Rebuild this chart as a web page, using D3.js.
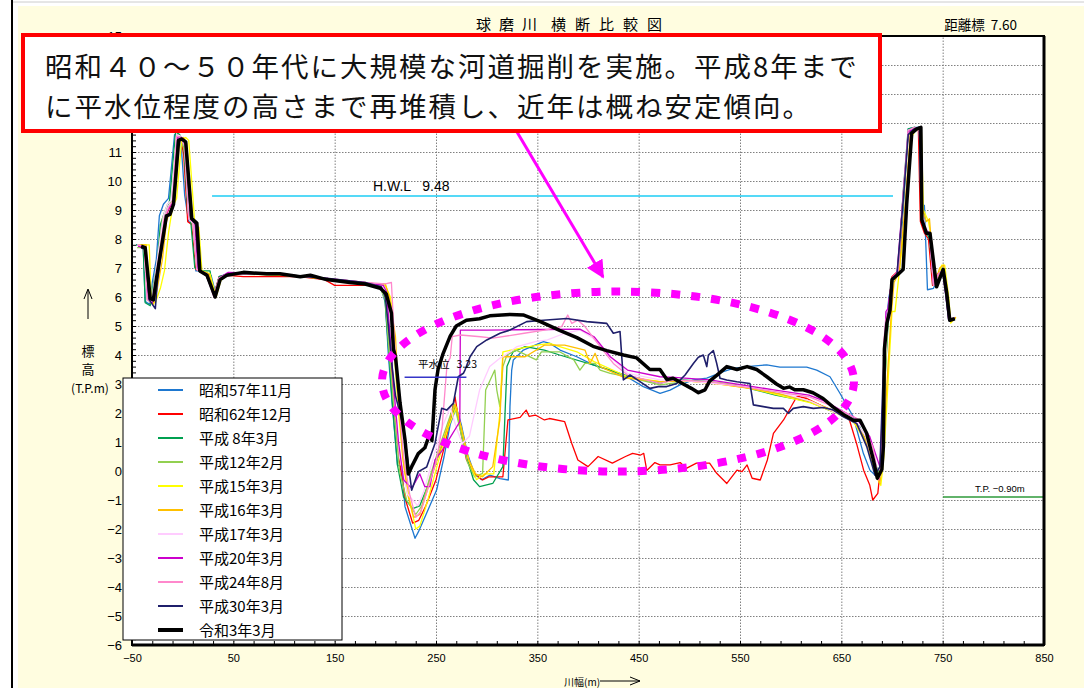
<!DOCTYPE html>
<html>
<head>
<meta charset="utf-8">
<script src="https://cdn.jsdelivr.net/npm/d3@7"></script>
<style>
  body { margin: 0; background: #fff; }
  text { font-family: "Noto Sans CJK JP", "Noto Sans", sans-serif; }
  .num { font-family: "Liberation Sans", Arial, sans-serif; }
</style>
</head>
<body>
<script>
// cross section survey lines, [distance m, elevation T.P.m]
const names = ['昭和57年11月', '昭和62年12月', '平成 8年3月', '平成12年2月', '平成15年3月', '平成16年3月',
  '平成17年3月', '平成20年3月', '平成24年8月', '平成30年3月', '令和3年3月'];
const colors = ['#1e78d0', '#ff0000', '#00a050', '#92d050', '#ffff00', '#ffc000',
  '#ffccff', '#cc00cc', '#ff88cc', '#1f1f6b', '#000000'];

const s57_11 = [[-46,7.8],[-39,7.8],[-37,5.85],[-33,5.75],[-30,6.5],[-26,7.3],[-23,8.8],[-19,9.2],[-14,9.4],[-8,11.6],[-5,11.6],[-2,11.5],[2,9.5],[6,8.6],[10,8.5],[13,6.9],[20,6.9],[28,6.75],[32,6.2],[36,6.7],[45,6.8],[60,6.8],[100,6.75],[140,6.65],[175,6.5],[195,6.4],[200,5.8],[203,4.0],[207,2.2],[212,0.2],[216,0.15],[219.4,-1.23],[229.3,-2.32],[232.6,-2.1],[240.8,-1.45],[250.7,-0.65],[258,0.5],[264,1.6],[270,2.2],[275,1.6],[281,0.6],[288,-0.1],[295,-0.3],[303.3,-0.14],[313.2,-0.26],[321.4,-0.31],[323,2.22],[324.7,3.48],[326.3,3.83],[336.2,4.17],[355.9,4.46],[362.5,4.4],[372.4,4.17],[388.9,3.94],[405.2,3.66],[421.7,3.48],[438.2,3.25],[454.6,2.91],[471.1,2.68],[481,2.79],[490.8,2.97],[504,3.14],[517.2,3.2],[533.6,3.43],[543.4,3.54],[556.6,3.6],[576.4,3.66],[589.4,3.58],[615.8,3.58],[625.7,3.48],[638.8,3.25],[648.6,2.68],[661.8,1.87],[671.7,0.61],[678.2,0.03],[684.9,-0.2],[689.9,0.14],[692,3.0],[694,5.0],[697,6.0],[701,6.7],[707,6.9],[712,9.5],[716,11.8],[722,11.85],[727,11.85],[730,9.2],[732,9.15],[735,6.25],[741,6.3],[748,6.9],[752,6.8],[756,5.3],[762,5.25]];

const s62_12 = [[-44,7.8],[-38,7.7],[-34,6.0],[-30,5.9],[-27,6.5],[-22,7.6],[-18,8.7],[-14,9.0],[-10,9.3],[-6,11.5],[-2,11.5],[1,10.9],[5,8.6],[9,8.5],[13,6.95],[25,6.8],[31,6.1],[36,6.7],[44,6.75],[60,6.7],[115,6.7],[140,6.6],[150,6.4],[190,6.4],[198,6.3],[202,5.5],[205,4.2],[209,2.0],[214,0.3],[220,-1.0],[227,-1.8],[233,-1.7],[240,-1.2],[250,-0.3],[258,0.8],[264,1.8],[268.8,2.56],[273,1.6],[280,0.4],[288,-0.1],[296,-0.31],[302,-0.2],[316,-0.2],[321,1.76],[333,1.85],[339,2.1],[342,1.88],[348,1.93],[357,1.76],[362,1.81],[377,1.7],[384,0.95],[390,0.38],[400,0.15],[410,0.5],[424,0.27],[437,0.5],[444,0.61],[452,0.55],[455,0.61],[458,0.02],[466,0.29],[471,0.21],[481,0.21],[491,0.29],[497,0.09],[507,0.27],[520,0.27],[527,-0.08],[537,-0.43],[547,0.03],[552,-0.02],[557,0.21],[562,-0.25],[570,-0.31],[577,0.38],[583,1.3],[593,1.76],[606,2.56],[609,2.56],[616,2.5],[632,2.22],[649,1.99],[658,1.76],[665,0.95],[672,0.03],[678,-0.48],[681,-1.0],[686,-0.77],[688,-0.08],[691,2.5],[694,4.5],[697,5.8],[700,6.7],[706,6.9],[711,9.5],[716,11.6],[722,11.8],[726,11.8],[728,8.6],[732,8.2],[736,8.0],[740,6.4],[745,6.8],[750,6.9],[754,6.1],[757,5.3],[762,5.25]];

const h08_03 = [[-46,7.8],[-39,7.8],[-37,5.8],[-32,5.7],[-29,6.4],[-25,7.2],[-22,8.5],[-17,9.0],[-13,9.3],[-7,11.7],[-3,11.6],[1,11.3],[5,9.0],[8,8.6],[12,7.0],[18,6.9],[27,6.9],[31,6.0],[36,6.7],[45,6.8],[70,6.8],[120,6.7],[160,6.55],[192,6.45],[199,6.2],[203,4.3],[207,2.3],[212,0.2],[218,-0.9],[227,-1.3],[234,-1.2],[242,-0.5],[252,0.5],[262,1.5],[269,2.25],[274,1.5],[280,0.5],[287,-0.3],[293,-0.54],[306,-0.43],[316,0.15],[320,3.6],[326,4.11],[338,4.29],[357,4.17],[372,4.0],[405,3.66],[437,3.31],[471,3.02],[485,3.16],[520,3.08],[552,2.91],[585,2.62],[618,2.39],[638,2.1],[655,1.87],[668,1.53],[681,0.5],[687,-0.08],[690,0.3],[692,2.5],[696,5.0],[700,6.6],[706,6.85],[711,9.6],[716,11.8],[722,11.85],[727,11.8],[729,9.0],[733,8.3],[737,8.0],[741,6.4],[746,6.8],[750,7.0],[754,6.2],[757,5.3],[762,5.25]];

const h12_02 = [[-45,7.7],[-38,7.7],[-35,5.9],[-31,5.8],[-28,6.5],[-24,7.5],[-20,8.7],[-15,9.2],[-11,9.3],[-6,11.6],[-2,11.5],[2,11.0],[6,8.8],[10,8.5],[14,6.95],[24,6.85],[31,6.05],[36,6.65],[45,6.8],[80,6.8],[130,6.7],[170,6.5],[194,6.4],[200,5.9],[204,4.0],[209,2.0],[214,0.0],[221,-1.0],[230,-1.5],[236,-1.2],[244,-0.2],[254,0.9],[263,1.8],[268,2.3],[274,1.4],[281,0.3],[288,-0.2],[296,-0.08],[299,2.79],[308,3.48],[310,2.79],[313,2.22],[316,3.6],[320,4.0],[329,4.17],[349,3.83],[354,4.11],[372,4.11],[386,3.83],[392,3.48],[397,3.71],[407,3.71],[412,3.48],[422,3.37],[439,3.25],[471,2.97],[500,3.1],[530,3.05],[560,2.9],[590,2.65],[620,2.4],[640,2.1],[657,1.85],[670,1.4],[681,0.3],[687,-0.1],[690,0.4],[693,3.0],[696,5.2],[699,6.4],[705,6.8],[711,9.2],[716,11.7],[722,11.85],[727,11.8],[729,9.0],[733,8.3],[737,8.2],[741,6.4],[746,6.8],[750,6.95],[754,6.1],[757,5.3],[763,5.25]];

const h15_03 = [[-42,7.8],[-33,7.8],[-31,5.85],[-27,5.8],[-22,6.3],[-18,6.9],[-14,8.2],[-10,9.1],[-6,9.4],[-1,11.4],[3,11.5],[6,11.4],[12,8.5],[16,8.4],[19,6.9],[27,6.8],[33,6.0],[38,6.6],[46,6.8],[90,6.8],[140,6.65],[180,6.5],[200,6.4],[205,6.0],[207,5.5],[209,4.0],[213,2.0],[218,0.3],[224,-1.0],[230,-2.0],[234,-1.9],[242,-1.0],[252,0.3],[262,1.5],[270,2.2],[276,1.3],[283,0.3],[290,-0.3],[298,-0.1],[307,-0.1],[313,2.0],[316,4.11],[333,4.23],[350,4.34],[362,4.4],[372,4.29],[389,4.11],[406,3.77],[439,3.25],[471,3.08],[500,3.1],[530,3.0],[560,2.85],[590,2.6],[620,2.35],[645,2.0],[662,1.7],[674,1.0],[685,-0.2],[689,-0.5],[692,0.5],[696,3.0],[700,5.5],[703,5.5],[707,6.8],[714,9.0],[719,11.5],[724,11.8],[729,11.7],[731,9.0],[736,8.6],[738,8.2],[744,6.4],[749,7.1],[752,7.1],[756,6.0],[758,5.1],[763,5.3]];

const h16_03 = [[-44,7.8],[-36,7.8],[-33,5.85],[-29,5.75],[-25,6.3],[-20,7.3],[-16,8.6],[-12,9.0],[-8,9.3],[-3,11.4],[1,11.5],[4,11.3],[10,8.6],[14,8.5],[17,6.9],[26,6.8],[32,6.05],[37,6.65],[46,6.8],[100,6.75],[150,6.6],[185,6.45],[200,6.45],[204,6.0],[210,4.63],[213,2.5],[217,0.5],[222,-0.8],[228,-1.6],[234,-1.5],[242,-0.6],[252,0.5],[262,1.6],[269,2.3],[275,1.5],[282,0.4],[289,-0.1],[296,-0.2],[306,0.15],[313,1.76],[316,3.94],[338,3.94],[357,4.34],[377,4.34],[397,4.17],[402,3.71],[407,4.06],[412,3.6],[437,3.2],[471,3.08],[500,3.1],[530,3.0],[560,2.85],[590,2.65],[620,2.4],[645,2.05],[662,1.75],[674,1.1],[684,-0.1],[688,-0.45],[691,0.5],[695,3.0],[699,5.3],[702,6.5],[707,6.85],[713,9.2],[718,11.6],[723,11.8],[728,11.75],[730,9.0],[734,8.6],[737,8.7],[742,6.4],[747,7.0],[751,7.1],[755,6.0],[758,5.15],[763,5.3]];

const h17_03 = [[-45,7.8],[-38,7.75],[-35,5.9],[-31,5.8],[-28,6.5],[-23,7.8],[-19,8.8],[-15,9.2],[-11,9.35],[-6,11.6],[-2,11.55],[2,11.2],[6,8.7],[10,8.55],[14,6.95],[24,6.8],[31,6.05],[36,6.65],[45,6.8],[90,6.8],[140,6.65],[180,6.5],[197,6.4],[201,6.0],[205,4.5],[209,2.5],[214,0.5],[222,-0.8],[232,-1.2],[238,-0.7],[246,0.3],[256,1.5],[264,2.2],[270,1.5],[276,0.95],[283,1.2],[293,2.79],[303,3.6],[313,3.89],[316,3.94],[330,4.29],[348,4.46],[360,4.52],[377,4.75],[392,4.86],[405,4.58],[422,3.94],[439,3.37],[471,3.14],[500,3.1],[530,3.0],[560,2.9],[590,2.7],[620,2.4],[645,2.0],[662,1.8],[674,1.2],[684,0.0],[688,-0.2],[690,1.0],[693,3.5],[696,5.5],[700,6.6],[706,6.85],[711,9.5],[716,11.75],[722,11.8],[727,11.8],[729,9.0],[733,8.4],[737,8.2],[741,6.4],[746,6.8],[750,6.95],[754,6.1],[757,5.3],[762,5.25]];

const h20_03 = [[-44,7.75],[-37,7.7],[-34,5.95],[-30,5.8],[-26,6.6],[-21,7.8],[-17,8.8],[-13,9.1],[-9,9.3],[-5,11.5],[-1,11.5],[3,11.3],[8,8.7],[12,8.55],[15,6.95],[23,6.8],[31,6.0],[36,6.65],[45,6.85],[90,6.8],[140,6.65],[180,6.5],[198,6.4],[201,6.2],[204,5.0],[208,3.0],[213,1.0],[218,-0.3],[226,-0.6],[234,-0.1],[239,-0.54],[244,-0.54],[249,0.38],[256,0.7],[263,1.1],[270,1.5],[273.5,1.7],[274,4.86],[300,4.86],[330,4.87],[360,4.88],[392,4.89],[406,4.63],[422,3.94],[439,3.48],[471,3.25],[485,3.23],[520,3.14],[552,2.97],[585,2.79],[618,2.62],[635,2.39],[652,2.05],[665,1.81],[678,1.19],[688,0.15],[690,0.5],[692,3.5],[694,5.5],[696,5.6],[700,6.65],[705,6.85],[711,9.5],[716,11.7],[722,11.8],[727,11.8],[729,8.8],[733,8.3],[737,8.2],[741,6.4],[746,6.8],[750,6.9],[753,6.1],[756,5.2],[762,5.25]];

const h24_08 = [[-45,7.8],[-38,7.75],[-35,5.9],[-30,5.85],[-27,6.5],[-22,7.7],[-18,8.7],[-14,9.1],[-10,9.3],[-6,11.55],[-2,11.5],[2,11.2],[6,8.7],[10,8.6],[14,6.95],[24,6.8],[31,6.0],[36,6.65],[45,6.8],[90,6.8],[140,6.65],[180,6.5],[200,6.45],[206,6.5],[209,4.5],[213,2.5],[218,0.5],[224,-0.8],[230,-1.6],[235,-1.4],[242,-0.6],[250,0.3],[256,1.5],[261,3.71],[264,3.9],[266,4.63],[274,4.69],[294,4.63],[306,4.58],[337,4.75],[357,4.86],[374,4.98],[380,5.38],[384,5.09],[390,5.2],[397,4.98],[412,4.29],[425,3.71],[439,3.31],[471,3.02],[485,3.14],[520,3.08],[552,2.91],[585,2.74],[618,2.56],[638,2.28],[655,1.99],[668,1.76],[681,0.84],[687,-0.31],[690,0.5],[692,4.5],[694,5.2],[697,5.6],[701,6.7],[706,6.85],[711,9.5],[716,11.75],[722,11.85],[727,11.8],[729,8.9],[733,8.3],[737,8.2],[741,6.4],[746,6.8],[750,6.9],[753,6.1],[756,5.2],[762,5.3]];

const h30_03 = [[-41,7.7],[-37,7.65],[-33,5.9],[-27,5.6],[-25,6.5],[-21,7.6],[-17,8.7],[-13,8.9],[-9,9.2],[-5,11.4],[-1,11.45],[3,11.3],[8,8.7],[13,8.5],[16,6.9],[23,6.75],[32,6.05],[37,6.6],[45,6.8],[90,6.8],[140,6.65],[180,6.5],[196,6.35],[200,6.0],[203,5.0],[207,3.5],[210,2.6],[217.8,1.53],[226,-0.66],[232.6,-0.02],[240.8,0.14],[249,0.95],[255.6,2.16],[260.6,2.1],[267.1,2.33],[272,3.25],[277,3.37],[278.6,3.48],[283.6,3.94],[290.2,4.29],[300.1,4.52],[313.2,4.75],[323,4.86],[339.5,5.15],[355.9,5.2],[379,5.26],[398.7,5.15],[418.5,5.09],[425,4.75],[431.6,4.81],[434.9,3.14],[441.5,3.31],[451.3,3.08],[461.2,2.85],[469.4,2.91],[477.7,2.91],[487.6,3.02],[495.8,3.31],[504,3.71],[508.9,3.92],[513.8,4.0],[517.2,3.6],[518.8,4.0],[523.7,4.15],[527,3.71],[530.3,3.2],[536.9,3.14],[546.8,3.08],[559.8,3.02],[563.2,2.28],[573,2.22],[582.9,2.16],[592.8,2.16],[597.7,1.99],[602.6,2.16],[612.5,2.22],[622.4,2.16],[632.3,2.19],[642.1,2.1],[652,1.87],[665.2,1.64],[675.1,0.84],[683.2,-0.14],[688.1,0.15],[691,3.0],[694,5.0],[697,5.5],[700,6.6],[705,6.8],[711,9.3],[716,11.6],[722,11.8],[727,11.85],[729,8.7],[733,8.2],[737,8.2],[743,6.4],[750,6.9],[753,6.1],[756,5.2],[762,5.25]];

const r03_03 = [[-41,7.75],[-37,7.7],[-32,5.95],[-29,5.9],[-26,6.6],[-21,7.7],[-16,8.8],[-12.5,8.85],[-9,9.2],[-4,11.4],[-1,11.45],[3,11.35],[9,8.7],[14,8.55],[17,6.9],[24,6.75],[32,6.0],[37,6.6],[43.5,6.75],[60,6.85],[83,6.8],[96,6.8],[116,6.7],[126,6.75],[142,6.6],[165,6.5],[180,6.45],[195,6.3],[201,6.1],[206,5.45],[208,4.2],[210,3.95],[214.5,2.35],[219.5,1.05],[222.7,-0.1],[226,0.15],[232.5,0.6],[239,0.8],[244,1.3],[246,1.05],[249,2.8],[252,3.5],[257,4.05],[264,4.65],[270,5.0],[280,5.2],[293,5.25],[303,5.35],[323,5.4],[336,5.38],[353,5.15],[372,4.85],[389,4.6],[405,4.3],[418.5,4.15],[435,4.0],[448,3.9],[461,3.5],[471,3.5],[478,3.15],[484,3.2],[494,3.0],[502,2.85],[509,2.7],[515.5,2.8],[520,3.1],[527,3.3],[537,3.6],[547,3.5],[557,3.6],[566.5,3.5],[576.5,3.25],[586,3.0],[593,2.85],[599,2.9],[604,2.8],[612.5,2.8],[622,2.7],[632,2.5],[642,2.2],[652,1.95],[662,1.75],[668.5,1.75],[675,1.3],[681.5,0.4],[685.5,-0.25],[690,0.05],[691.5,0.85],[692.5,4.2],[695,5.1],[698,5.55],[700,6.6],[705,6.75],[711,6.95],[714.5,9.2],[719.5,11.65],[724.5,11.8],[728.5,11.85],[729.5,8.65],[734,8.2],[737.5,8.2],[744,6.35],[750.5,6.95],[754,6.15],[757,5.2],[762,5.25]];

const seriesData = [s57_11, s62_12, h08_03, h12_02, h15_03, h16_03, h17_03, h20_03, h24_08, h30_03, r03_03];

const xTicks = [-50, 50, 150, 250, 350, 450, 550, 650, 750, 850];
const yGrid = [-6, -5, -4, -3, -2, -1, 0, 1, 2, 3, 4, 5, 6, 7, 8, 9, 10, 11, 12, 13, 14, 15];
// 12-14 sit behind the note box in the original
const yLabels = [-6, -5, -4, -3, -2, -1, 0, 1, 2, 3, 4, 5, 6, 7, 8, 9, 10, 11, 15];
const hwl = 9.48, hwlRange = [29, 701];
const lowWater = 3.23, lowWaterRange = [219, 280];
const tpLevel = -0.90;

const W = 1084, H = 688;
const svg = d3.select('body').append('svg').attr('width', W).attr('height', H);

const x = d3.scaleLinear().domain([-50, 850]).range([132, 1044]);
const y = d3.scaleLinear().domain([-6, 15]).range([645, 36]);

// page frame
svg.append('rect').attr('width', W).attr('height', H).attr('fill', '#fff');
svg.append('rect').attr('x', 18).attr('y', 6).attr('width', W - 18).attr('height', H - 6).attr('fill', '#fffde0');
svg.append('line').attr('x1', 12).attr('x2', 12).attr('y1', 0).attr('y2', H).attr('stroke', '#000').attr('stroke-width', 2);
svg.append('line').attr('x1', 13).attr('x2', W).attr('y1', 2).attr('y2', 2).attr('stroke', '#ccc').attr('stroke-width', 1);

// plot area
svg.append('rect').attr('x', x(-50)).attr('y', y(15)).attr('width', x(850) - x(-50)).attr('height', y(-6) - y(15)).attr('fill', '#fff');

// grid
const gx = svg.append('g').attr('transform', `translate(0,${y(-6)})`)
  .call(d3.axisBottom(x).tickValues(xTicks).tickSize(-(y(-6) - y(15))).tickFormat(''));
const gy = svg.append('g').attr('transform', `translate(${x(-50)},0)`)
  .call(d3.axisLeft(y).tickValues(yGrid).tickSize(-(x(850) - x(-50))).tickFormat(''));
[gx, gy].forEach(g => {
  g.select('.domain').remove();
  g.selectAll('line').attr('stroke', '#808080').attr('stroke-dasharray', '1.5,1.5').attr('stroke-width', 1);
});

// minor ticks
const mx = svg.append('g').attr('transform', `translate(0,${y(-6)})`)
  .call(d3.axisBottom(x).tickValues(d3.range(-50, 851, 20)).tickSize(-4).tickFormat(''));
const my = svg.append('g').attr('transform', `translate(${x(-50)},0)`)
  .call(d3.axisLeft(y).tickValues(d3.range(-6, 15.01, 0.2)).tickSize(-4).tickFormat(''));
[mx, my].forEach(g => { g.select('.domain').remove(); g.selectAll('line').attr('stroke', '#000'); });

// tick labels
const lx = svg.append('g').attr('transform', `translate(0,${y(-6)})`)
  .call(d3.axisBottom(x).tickValues(xTicks).tickSize(0).tickPadding(9).tickFormat(d => d < 0 ? '−' + (-d) : d));
const ly = svg.append('g').attr('transform', `translate(${x(-50)},0)`)
  .call(d3.axisLeft(y).tickValues(yLabels).tickSize(0).tickPadding(10).tickFormat(d => d < 0 ? '−' + (-d) : d));
[lx, ly].forEach(g => { g.select('.domain').remove(); g.selectAll('text').attr('class', 'num').attr('fill', '#000'); });
lx.selectAll('text').attr('font-size', 11);
ly.selectAll('text').attr('font-size', 13);

// H.W.L and low water lines
svg.append('line').attr('x1', x(hwlRange[0])).attr('x2', x(hwlRange[1])).attr('y1', y(hwl)).attr('y2', y(hwl))
  .attr('stroke', '#1ccdf4').attr('stroke-width', 1.5);
svg.append('text').attr('class', 'num').attr('x', 373).attr('y', y(hwl) - 5).attr('font-size', 14)
  .style('white-space', 'pre').text('H.W.L   9.48');

// survey lines
const line = d3.line().x(d => x(d[0])).y(d => y(d[1]));
seriesData.forEach((s, i) => {
  svg.append('path').datum(s).attr('d', line).attr('fill', 'none')
    .attr('stroke', colors[i]).attr('stroke-width', i === 10 ? 3.5 : (i === 9 ? 1.6 : 1.3))
    .attr('stroke-linejoin', 'round');
});

svg.append('line').attr('x1', x(lowWaterRange[0])).attr('x2', x(lowWaterRange[1])).attr('y1', y(lowWater)).attr('y2', y(lowWater))
  .attr('stroke', '#3535c8').attr('stroke-width', 1.5);
svg.append('text').attr('x', 418).attr('y', y(lowWater) - 9).attr('font-size', 10.5)
  .style('white-space', 'pre').text('平水位   3.23');

svg.append('line').attr('x1', 943).attr('x2', x(850)).attr('y1', y(tpLevel)).attr('y2', y(tpLevel))
  .attr('stroke', '#2e9a3a').attr('stroke-width', 1.5);
svg.append('text').attr('class', 'num').attr('x', 975).attr('y', y(tpLevel) - 5).attr('font-size', 9.5)
  .text('T.P. −0.90m');

// axis frame
svg.append('rect').attr('x', x(-50)).attr('y', y(15)).attr('width', x(850) - x(-50)).attr('height', y(-6) - y(15))
  .attr('fill', 'none').attr('stroke', '#000').attr('stroke-width', 2);
svg.append('line').attr('x1', x(-50)).attr('x2', x(850)).attr('y1', y(-6)).attr('y2', y(-6)).attr('stroke', '#000').attr('stroke-width', 3);
svg.append('line').attr('x1', x(850)).attr('x2', x(850)).attr('y1', y(15)).attr('y2', y(-6)).attr('stroke', '#000').attr('stroke-width', 3);

// titles
svg.append('text').attr('x', 476).attr('y', 30).attr('font-size', 15).attr('letter-spacing', 8).text('球磨川');
svg.append('text').attr('x', 551).attr('y', 30).attr('font-size', 15).attr('letter-spacing', 9).text('横断比較図');
svg.append('text').attr('x', 1017).attr('y', 30).attr('text-anchor', 'end').attr('font-size', 13.5)
  .style('white-space', 'pre').text('距離標  7.60');

// axis titles
svg.append('path').attr('d', 'M88,319 V290 M84,299 L88,289 L92,299').attr('fill', 'none').attr('stroke', '#000').attr('stroke-width', 1);
svg.append('text').attr('x', 88).attr('y', 356).attr('text-anchor', 'middle').attr('font-size', 13).text('標');
svg.append('text').attr('x', 88).attr('y', 374).attr('text-anchor', 'middle').attr('font-size', 13).text('高');
svg.append('text').attr('x', 90).attr('y', 393).attr('text-anchor', 'middle').attr('font-size', 12).text('(T.P.m)');
svg.append('text').attr('x', 564).attr('y', 686).attr('font-size', 10).text('川幅(m)');
svg.append('path').attr('d', 'M600,681 H640 M630,677 L640,681 L630,685').attr('fill', 'none').attr('stroke', '#000').attr('stroke-width', 1);

// legend
const lg = svg.append('g');
lg.append('rect').attr('x', 123).attr('y', 378).attr('width', 219).attr('height', 262)
  .attr('fill', '#fff').attr('stroke', '#000').attr('stroke-width', 1);
names.forEach((n, i) => {
  const ry = 390 + i * 24;
  lg.append('line').attr('x1', 158).attr('x2', 183).attr('y1', ry).attr('y2', ry)
    .attr('stroke', colors[i]).attr('stroke-width', i === 10 ? 4 : 2);
  lg.append('text').attr('x', 199).attr('y', ry + 6).attr('font-size', 15).style('white-space', 'pre').text(n);
});

// annotation: ellipse, arrow, box
svg.append('ellipse').attr('cx', 618).attr('cy', 381.5).attr('rx', 236).attr('ry', 90)
  .attr('fill', 'none').attr('stroke', '#ff00ff').attr('stroke-width', 8).attr('stroke-dasharray', '9,11');
svg.append('defs').append('marker').attr('id', 'ah').attr('viewBox', '0 0 10 10').attr('refX', 9).attr('refY', 5)
  .attr('markerWidth', 6).attr('markerHeight', 6).attr('orient', 'auto')
  .append('path').attr('d', 'M0,0 L10,5 L0,10 Z').attr('fill', '#ff00ff');
svg.append('line').attr('x1', 517).attr('y1', 132).attr('x2', 603).attr('y2', 277)
  .attr('stroke', '#ff00ff').attr('stroke-width', 3).attr('marker-end', 'url(#ah)');

svg.append('rect').attr('x', 23).attr('y', 35).attr('width', 857).attr('height', 96)
  .attr('fill', '#fff').attr('stroke', '#ff0000').attr('stroke-width', 4);
const notes = ['昭和４０～５０年代に大規模な河道掘削を実施。平成8年まで', 'に平水位程度の高さまで再堆積し、近年は概ね安定傾向。'];
notes.forEach((t, i) => {
  svg.append('text').attr('x', 45).attr('y', 77 + i * 40).attr('font-size', 27.5)
    .attr('letter-spacing', 2).attr('fill', '#111').text(t);
});
</script>
</body>
</html>
